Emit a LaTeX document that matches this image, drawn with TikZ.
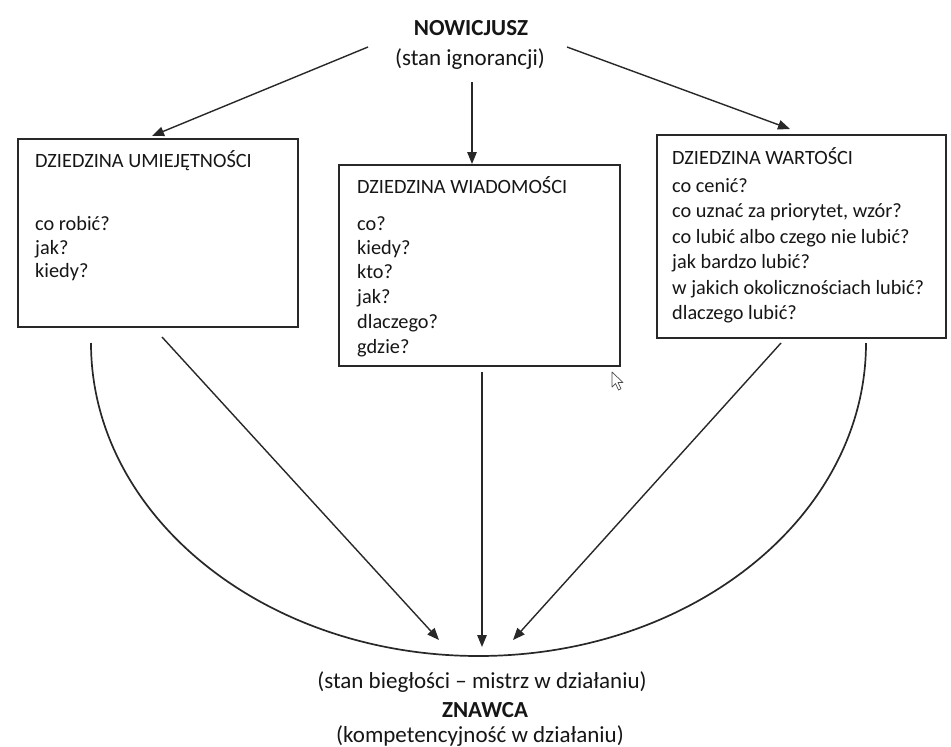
\documentclass[tikz,border=0pt]{standalone}
\usepackage{fontspec}
\setmainfont{Carlito}
\usetikzlibrary{arrows.meta}
\definecolor{ink}{HTML}{161616}
\definecolor{linec}{HTML}{282828}
\begin{document}
\begin{tikzpicture}[x=1pt,y=-1pt,
  box/.style={draw=linec, line width=1.8pt, inner sep=0pt},
  body/.style={anchor=base west, inner sep=0pt, font=\fontsize{20.3}{24}\selectfont, text=ink},
  head/.style={anchor=base, inner sep=0pt, font=\fontsize{23}{27}\selectfont, text=ink},
  arr/.style={draw=linec, line width=1.4pt, -{Triangle[length=12pt,width=9.5pt]}},
  arcline/.style={draw=linec, line width=1.7pt},
]
\fill[white] (0,0) rectangle (951,747);
\path[use as bounding box] (0,0) rectangle (951,747);

% boxes
\node[box, minimum width=280pt, minimum height=188pt] (L) at (158,233) {};
\node[box, minimum width=281pt, minimum height=201pt] (M) at (479.5,265.5) {};
\node[box, minimum width=289pt, minimum height=203pt] (R) at (801.5,236.5) {};

% top / bottom labels
\node[head, font=\fontsize{23}{27}\selectfont\bfseries] (nov) at (471,35) {NOWICJUSZ};
\node[head] (novsub) at (470,65) {(stan ignorancji)};
\node[head] (zn1) at (482,688) {(stan biegłości – mistrz w działaniu)};
\node[head, font=\fontsize{23}{27}\selectfont\bfseries] (zn) at (485,717) {ZNAWCA};
\node[head] (zn2) at (480,742) {(kompetencyjność w działaniu)};

% left box text
\node[body] (l0) at (35,167) {DZIEDZINA UMIEJĘTNOŚCI};
\node[body] (l1) at (35,230) {co robić?};
\node[body] (l2) at (35,254) {jak?};
\node[body] (l3) at (35,277) {kiedy?};

% middle box text
\node[body] (m0) at (357,193) {DZIEDZINA WIADOMOŚCI};
\node[body] (m1) at (357,230) {co?};
\node[body] (m2) at (357,254) {kiedy?};
\node[body] (m3) at (357,278) {kto?};
\node[body] (m4) at (357,303) {jak?};
\node[body] (m5) at (357,328) {dlaczego?};
\node[body] (m6) at (357,353) {gdzie?};

% right box text
\node[body] (r0) at (672,164) {DZIEDZINA WARTOŚCI};
\node[body] (r1) at (672,192) {co cenić?};
\node[body] (r2) at (672,217.5) {co uznać za priorytet, wzór?};
\node[body] (r3) at (672,243) {co lubić albo czego nie lubić?};
\node[body] (r4) at (672,268.5) {jak bardzo lubić?};
\node[body] (r5) at (672,294) {w jakich okolicznościach lubić?};
\node[body] (r6) at (672,319.5) {dlaczego lubić?};

% connector endpoints
\coordinate (a1) at (368,47);  \coordinate (a1e) at (152,136);
\coordinate (a2) at (472,82);  \coordinate (a2e) at (472,164);
\coordinate (a3) at (567,47);  \coordinate (a3e) at (790,129);
\coordinate (b1) at (162,337); \coordinate (b1e) at (439,640);
\coordinate (b2) at (482,372); \coordinate (b2e) at (482,647);
\coordinate (b3) at (781,343); \coordinate (b3e) at (513,640);
\coordinate (arcL) at (91,343);

\draw[arr] (a1) -- (a1e);
\draw[arr] (a2) -- (a2e);
\draw[arr] (a3) -- (a3e);
\draw[arr] (b1) -- (b1e);
\draw[arr] (b2) -- (b2e);
\draw[arr] (b3) -- (b3e);

% big arc
\draw[arcline] (arcL) arc[start angle=180, end angle=360, x radius=387.5pt, y radius=313pt];

% mouse pointer
\draw[fill=white, draw=gray!60!black, line width=0.7pt, line join=round]
  (612,372) -- ++(0,15) -- ++(3.5,-3.5) -- ++(3,6.5) -- ++(2.5,-1.2) -- ++(-3,-6.3) -- ++(5,0) -- cycle;
\end{tikzpicture}
\end{document}
